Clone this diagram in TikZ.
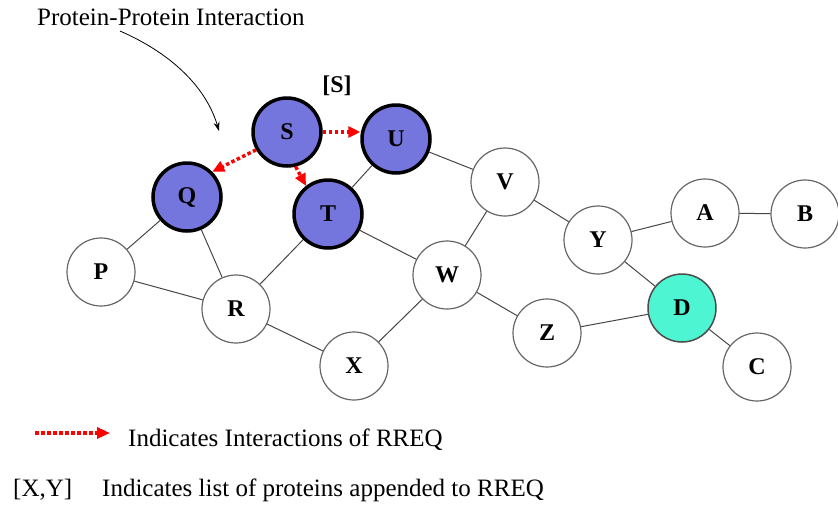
\documentclass[tikz,border=0pt]{standalone}
\usepackage{fontspec}
\setmainfont{Liberation Serif}
\usetikzlibrary{arrows.meta}
\definecolor{nodeblue}{RGB}{117,117,222}
\definecolor{nodecyan}{RGB}{77,245,210}
\definecolor{edgegray}{RGB}{70,70,70}
\begin{document}
\begin{tikzpicture}[x=1pt,y=-1pt,
 prot/.style={circle,minimum size=68pt,inner sep=0pt,font=\fontsize{24}{24}\selectfont\bfseries},
 whitep/.style={prot,draw=black!60,line width=1.2pt,fill=white},
 bluep/.style={prot,draw=black,line width=3.5pt,fill=nodeblue},
 cyanp/.style={prot,draw=black!70,line width=1.5pt,fill=nodecyan},
 link/.style={draw=edgegray,line width=1pt},
 rreq/.style={draw=red,line width=3.5pt,dash pattern=on 3.5pt off 2.5pt,-{Triangle[length=12pt,width=11pt]}},
 txt/.style={font=\fontsize{25}{25}\selectfont,inner sep=0pt}]
\useasboundingbox (0,0) rectangle (838,504);

% nodes
\node[bluep] (S) at (287,132) {S};
\node[bluep] (U) at (396,139) {U};
\node[bluep] (Q) at (187,197) {Q};
\node[bluep] (T) at (328,214) {T};
\node[whitep] (P) at (101,272) {P};
\node[whitep] (R) at (236,309) {R};
\node[whitep] (X) at (354,366) {X};
\node[whitep] (W) at (447,275) {W};
\node[whitep] (V) at (505,182) {V};
\node[whitep] (Z) at (547,333) {Z};
\node[whitep] (Y) at (598,240) {Y};
\node[whitep] (A) at (705,213) {A};
\node[whitep] (B) at (805,214) {B};
\node[cyanp] (D) at (682,308) {D};
\node[whitep] (C) at (757,367) {C};

% links
\foreach \a/\b in {Q/P,Q/R,P/R,R/T,T/U,T/W,U/V,R/X,X/W,W/V,W/Z,V/Y,Y/A,A/B,Y/D,Z/D,D/C}
  \draw[link] (\a) -- (\b);

% RREQ arrows
\draw[rreq] (S.east) -- (U.west |- S.east);
\draw[rreq] (S.210) -- (Q.north east);
\draw[rreq] (S.284) -- (T.128);

\node[font=\fontsize{24}{24}\selectfont\bfseries,inner sep=0pt] (lab) at (337,86) {[S]};

% title and curved arrow
\node[txt,anchor=base west] (title) at (37,25) {Protein-Protein Interaction};
\coordinate (c1) at (120,31);
\coordinate (c2) at (219,131);
\draw[black,line width=0.8pt,-{Stealth[length=9pt,width=6pt]}] (c1) .. controls (175,55) and (207,90) .. (c2);

% legend
\coordinate (la1) at (35,433);
\coordinate (la2) at (110,433);
\draw[draw=red,line width=3.5pt,dash pattern=on 3.5pt off 2.5pt,-{Triangle[length=13pt,width=11pt]}] (la1) -- (la2);
\node[txt,anchor=base west] (l1) at (128,446) {Indicates Interactions of RREQ};
\node[txt,anchor=base west] (l2a) at (13,496) {[X,Y]};
\node[txt,anchor=base west] (l2b) at (102,496) {Indicates list of proteins appended to RREQ};
\end{tikzpicture}
\end{document}
